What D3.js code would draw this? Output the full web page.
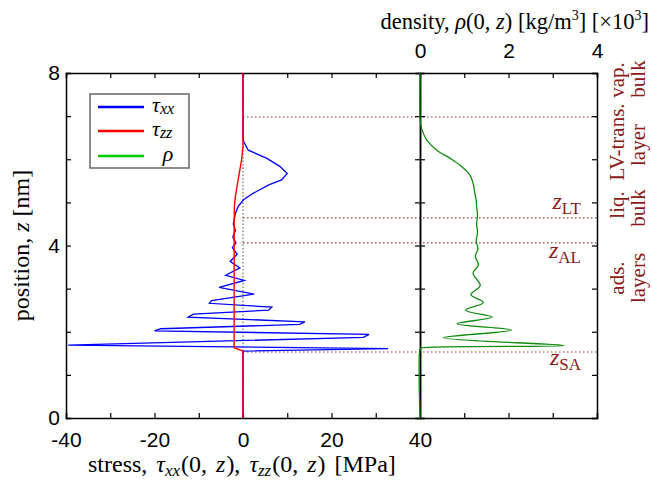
<!DOCTYPE html>
<html><head><meta charset="utf-8">
<script src="https://cdn.jsdelivr.net/npm/d3@7"></script>
<style>body{margin:0;background:#fff} svg{display:block}</style>
</head><body><svg id="c" width="652" height="480"></svg>
<script>
// ---------- data ----------
const stressTicks = [-40, -20, 0, 20, 40];
const stressMinorTicks = [-40,-30,-20,-10,0,10,20,30,40,50,60,70,80];
const densityTicks = [0, 2, 4];
const zTicks = [0, 4, 8];
const zMinorTicks = [0,1,2,3,4,5,6,7,8];

// tau_xx : [stress MPa, z nm]
const tauXX = [
  [0,0],[0,1.55],[32.8,1.61],[-39.5,1.69],[27.2,1.87],[28.5,1.94],[-20.0,2.02],[-18.6,2.07],
  [12.8,2.17],[14.0,2.23],[-12.4,2.34],[-11.2,2.41],[5.8,2.50],[6.5,2.57],[-7.6,2.66],[-7.1,2.72],
  [2.5,2.87],[-5.4,3.03],[0.3,3.19],[-3.9,3.31],[-0.7,3.48],[-2.9,3.63],[-1.3,3.80],[-2.4,3.95],
  [-1.6,4.06],[-2.3,4.20],[-1.7,4.35],[-2.2,4.50],[-1.7,4.75],[-1.1,4.90],[0.1,5.06],[2.3,5.21],
  [5.7,5.40],[8.7,5.52],[10.0,5.67],[8.4,5.83],[5.4,6.02],[1.2,6.21],[0.2,6.40],[0,6.5],[0,8]
];
// tau_zz : [stress MPa, z nm]
const tauZZ = [
  [0,0],[0,1.55],[-2.0,1.63],[-2.0,4.6],[-1.95,4.9],[-1.7,5.15],[-1.3,5.4],[-0.8,5.7],[-0.3,6.0],[0,6.3],[0,8]
];
// density rho : [rho x10^3 kg/m3, z nm]
const rho = [
  [0,0],[0,1.6],[0.02,1.62],[3.26,1.68],[0.53,1.86],[2.07,2.04],[0.84,2.185],[1.63,2.34],
  [1.03,2.50],[1.43,2.68],[1.15,2.86],[1.36,3.07],[1.20,3.36],[1.32,3.55],[1.25,3.75],[1.31,3.92],
  [1.27,4.10],[1.30,4.30],[1.28,4.50],[1.30,4.70],[1.28,4.90],[1.27,5.05],[1.24,5.21],[1.20,5.44],
  [1.13,5.63],[0.94,5.83],[0.68,6.02],[0.38,6.21],[0.15,6.45],[0.06,6.64],[0.01,6.85],[0,6.95],[0,8]
];
const markerZ = [1.53, 4.06, 4.64, 6.98];
const markerLabels = [["SA",1.53],["AL",4.06],["LT",4.64]];
const regionCol1 = [["ads.",278],["liq.",205],["LV-trans.",142],["vap.",80]];
const regionCol2 = [["layers",278],["bulk",208],["layer",145],["bulk",79]];

// ---------- layout ----------
const svg = d3.select("#c");
const x = d3.scaleLinear().domain([-40, 80]).range([66, 597]);
const xr = d3.scaleLinear().domain([0, 4]).range([x(40), x(80)]);
const y = d3.scaleLinear().domain([0, 8]).range([418, 73]);
const dark = "#8b1a1a";
const serif = "'Liberation Serif','Times New Roman',serif";
const sans = "'Liberation Sans',Arial,sans-serif";

// reference vertical at stress 0
svg.append("line").attr("x1", x(0)).attr("x2", x(0)).attr("y1", y(8)).attr("y2", y(0))
  .attr("stroke", "#8a8a8a").attr("stroke-width", 1.5).attr("stroke-dasharray", "1.5,2");

// horizontal markers
svg.selectAll(".mk").data(markerZ).enter().append("line")
  .attr("x1", x(0)).attr("x2", x(80)).attr("y1", d => y(d)).attr("y2", d => y(d))
  .attr("stroke", "#a33a3a").attr("stroke-width", 1.2).attr("stroke-dasharray", "1.5,2.5");

// ---------- axes ----------
const gB = svg.append("g").attr("transform", `translate(0,${y(0)})`)
  .call(d3.axisBottom(x).tickValues(stressMinorTicks).tickSize(-5).tickFormat(""));
const gT = svg.append("g").attr("transform", `translate(0,${y(8)})`)
  .call(d3.axisTop(x).tickValues(stressMinorTicks).tickSize(-5).tickFormat(""));
const gL = svg.append("g").attr("transform", `translate(${x(-40)},0)`)
  .call(d3.axisLeft(y).tickValues(zMinorTicks).tickSize(-5).tickFormat(""));
const gR = svg.append("g").attr("transform", `translate(${x(80)},0)`)
  .call(d3.axisRight(y).tickValues(zMinorTicks).tickSize(-5).tickFormat(""));
const gM1 = svg.append("g").attr("transform", `translate(${x(40)},0)`)
  .call(d3.axisLeft(y).tickValues(zMinorTicks).tickSize(-5).tickFormat(""));
const gM2 = svg.append("g").attr("transform", `translate(${x(40)},0)`)
  .call(d3.axisRight(y).tickValues(zMinorTicks).tickSize(-5).tickFormat(""));
[gB, gT, gL, gR, gM1, gM2].forEach(g => {
  g.selectAll("path").attr("stroke", "#000").attr("stroke-width", 1.5);
  g.selectAll("line").attr("stroke", "#000").attr("stroke-width", 1.2);
});

// ---------- curves ----------
const lineS = d3.line().x(d => x(d[0])).y(d => y(d[1]));
const lineR = d3.line().x(d => xr(d[0])).y(d => y(d[1])).curve(d3.curveCatmullRom.alpha(0.5));

svg.append("path").attr("d", lineS(tauXX)).attr("fill", "none").attr("stroke", "#0000ff").attr("stroke-width", 1.3);
svg.append("path").attr("d", lineS(tauZZ)).attr("fill", "none").attr("stroke", "#ff0000").attr("stroke-width", 1.4);
svg.append("path").attr("d", lineR(rho)).attr("fill", "none").attr("stroke", "#108a10").attr("stroke-width", 1.3);

// tick labels
const fmt = d => String(d);
const gBL = svg.append("g").attr("transform", `translate(0,${y(0)})`)
  .call(d3.axisBottom(x).tickValues(stressTicks).tickSize(0).tickPadding(14).tickFormat(fmt));
const gTL = svg.append("g").attr("transform", `translate(0,${y(8)})`)
  .call(d3.axisTop(xr).tickValues(densityTicks).tickSize(0).tickPadding(15).tickFormat(fmt));
const gLL = svg.append("g").attr("transform", `translate(${x(-40)},0)`)
  .call(d3.axisLeft(y).tickValues(zTicks).tickSize(0).tickPadding(6).tickFormat(fmt));
[gBL, gTL, gLL].forEach(g => {
  g.select("path").remove();
  g.selectAll("text").attr("font-family", sans).attr("font-size", 21).attr("fill", "#000");
});

// axis titles
const tb = svg.append("text").attr("x", 88).attr("y", 472).attr("font-family", serif).attr("font-size", 24)
  .attr("word-spacing", 3);
tb.append("tspan").text("stress, ");
tb.append("tspan").attr("font-style", "italic").text("τ");
tb.append("tspan").attr("font-style", "italic").attr("font-size", 17).attr("dy", 4).text("xx");
tb.append("tspan").attr("dy", -4).attr("dx", 1).text("(0, ");
tb.append("tspan").attr("font-style", "italic").text("z");
tb.append("tspan").attr("dx", 1).text("), ");
tb.append("tspan").attr("font-style", "italic").text("τ");
tb.append("tspan").attr("font-style", "italic").attr("font-size", 17).attr("dy", 4).text("zz");
tb.append("tspan").attr("dy", -4).attr("dx", 1).text("(0, ");
tb.append("tspan").attr("font-style", "italic").text("z");
tb.append("tspan").attr("dx", 1).text(")  [MPa]");

const tt = svg.append("text").attr("x", 649).attr("y", 29).attr("text-anchor", "end")
  .attr("font-family", serif).attr("font-size", 22.5);
tt.append("tspan").text("density, ");
tt.append("tspan").attr("font-style", "italic").text("ρ");
tt.append("tspan").text("(0, ");
tt.append("tspan").attr("font-style", "italic").text("z");
tt.append("tspan").text(") [kg/m");
tt.append("tspan").attr("font-size", 14).attr("dy", -9).text("3");
tt.append("tspan").attr("dy", 9).text("] [×10");
tt.append("tspan").attr("font-size", 14).attr("dy", -9).text("3");
tt.append("tspan").attr("dy", 9).text("]");

const tl = svg.append("text").attr("transform", `translate(29,${(y(0)+y(8))/2}) rotate(-90)`)
  .attr("text-anchor", "middle").attr("font-family", serif).attr("font-size", 24);
tl.append("tspan").text("position, ");
tl.append("tspan").attr("font-style", "italic").text("z");
tl.append("tspan").text(" [nm]");

// marker labels
markerLabels.forEach(([s, z]) => {
  const base = s === "SA" ? y(z) + 13 : s === "AL" ? y(z) + 15 : y(z) - 9;
  const t = svg.append("text").attr("x", 581).attr("y", base).attr("text-anchor", "end")
    .attr("font-family", serif).attr("font-size", 24).attr("fill", dark);
  t.append("tspan").attr("font-style", "italic").text("z");
  t.append("tspan").attr("font-size", 17).attr("dy", 5).text(s);
});

// region labels on right
regionCol1.forEach(([s, yc]) => {
  svg.append("text").attr("transform", `translate(624,${yc}) rotate(-90)`).attr("text-anchor", "middle")
    .attr("font-family", serif).attr("font-size", 21).attr("fill", dark).text(s);
});
regionCol2.forEach(([s, yc]) => {
  svg.append("text").attr("transform", `translate(645,${yc}) rotate(-90)`).attr("text-anchor", "middle")
    .attr("font-family", serif).attr("font-size", 21).attr("fill", dark).text(s);
});

// legend
const lg = svg.append("g");
lg.append("rect").attr("x", 90).attr("y", 94).attr("width", 99).attr("height", 74)
  .attr("fill", "#fff").attr("stroke", "#666").attr("stroke-width", 1.5);
const legItems = [["#0000ff","xx",107],["#ff0000","zz",131],["#00cc00",null,156]];
legItems.forEach(([c, sub, yy]) => {
  lg.append("line").attr("x1", 98).attr("x2", 144).attr("y1", yy).attr("y2", yy).attr("stroke", c).attr("stroke-width", 2.5);
  const t = lg.append("text").attr("y", yy + 5).attr("font-family", serif).attr("font-size", 22).attr("font-style", "italic");
  if (sub) {
    t.attr("x", 152);
    t.append("tspan").text("τ");
    t.append("tspan").attr("font-size", 16).attr("dy", 2).text(sub);
  } else {
    t.attr("x", 168).attr("text-anchor", "middle").text("ρ");
  }
});
</script></body></html>
